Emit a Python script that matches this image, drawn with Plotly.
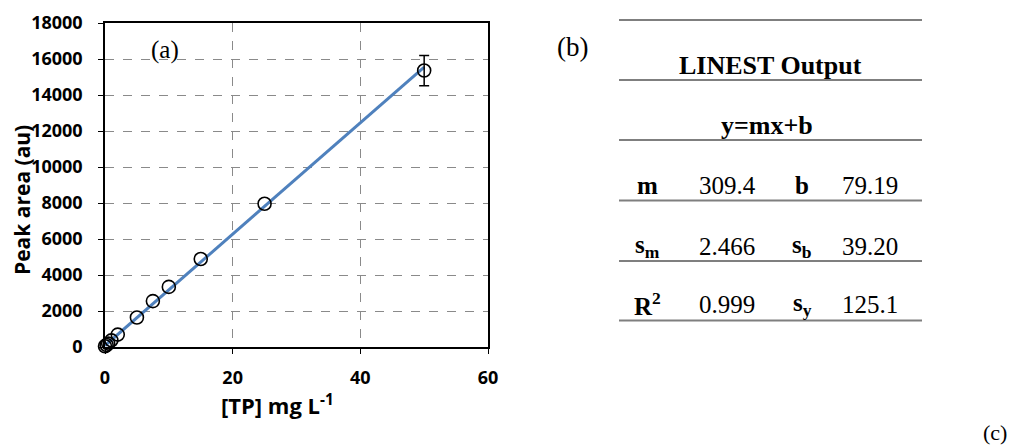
import plotly.graph_objects as go

# Calibration data: total phosphorus standards vs. peak area
tp_conc = [0, 0.25, 0.5, 1, 2, 5, 7.5, 10, 15, 25, 50]
peak_area = [40, 110, 190, 370, 690, 1640, 2550, 3340, 4890, 7960, 15360]
peak_err = [0, 0, 0, 0, 0, 0, 0, 0, 0, 0, 840]

# LINEST regression output
slope = 309.4
intercept = 79.19
fit_x = [0, 50]

table_title = "LINEST Output"
table_eq = "y=mx+b"
row_labels_left = ["m", "s<sub>m</sub>", "R<sup>2</sup>"]
row_values_left = ["309.4", "2.466", "0.999"]
row_labels_right = ["b", "s<sub>b</sub>", "s<sub>y</sub>"]
row_values_right = ["79.19", "39.20", "125.1"]

W, H = 1016, 445


def px(x):
    return x / W


def py(y):
    return 1 - y / H


fig = go.Figure()

# regression line
fig.add_trace(go.Scatter(
    x=fit_x, y=[slope * x + intercept for x in fit_x],
    mode="lines", line=dict(color="#4F81BD", width=3),
    hoverinfo="skip", showlegend=False,
))

# standards with open circle markers
fig.add_trace(go.Scatter(
    x=tp_conc, y=peak_area, mode="markers", cliponaxis=False,
    marker=dict(symbol="circle-open", size=13, color="black", line=dict(width=1.6)),
    showlegend=False,
))

# error bar on the top standard
fig.add_trace(go.Scatter(
    x=tp_conc[-1:], y=peak_area[-1:], mode="markers",
    marker=dict(size=1, color="rgba(0,0,0,0)"),
    error_y=dict(type="data", array=peak_err[-1:], color="black", thickness=1.5, width=5),
    showlegend=False,
))

tick_font = dict(family="Open Sans", size=18, color="black", weight="bold")
fig.update_xaxes(
    domain=[px(105), px(488)], range=[0, 60], dtick=20, tickformat="d",
    showgrid=True, gridcolor="#8a8a8a", griddash="dash", gridwidth=1,
    showline=True, linecolor="black", linewidth=1.5, mirror=True,
    ticks="outside", ticklen=5, tickcolor="black",
    tickfont=tick_font, zeroline=False, automargin=False,
    ticklabelstandoff=9,
)
fig.update_yaxes(
    domain=[py(347), py(23)], range=[0, 18000], dtick=2000, tickformat="d",
    showgrid=True, gridcolor="#8a8a8a", griddash="dash", gridwidth=1,
    showline=True, linecolor="black", linewidth=1.5, mirror=True,
    ticks="outside", ticklen=5, tickcolor="black",
    tickfont=tick_font, zeroline=False, automargin=False,
    ticklabelstandoff=12,
)


def label(text, x, y, size, family, angle=0, bold=False):
    return dict(
        text=text, x=px(x), y=py(y), xref="paper", yref="paper",
        xanchor="center", yanchor="middle", showarrow=False, textangle=angle,
        font=dict(family=family, size=size, color="black",
                  weight="bold" if bold else "normal"),
    )


sans = "Open Sans"
serif = "Liberation Serif"
annotations = [
    # axis titles
    label("Peak area (au)", 22, 200, 21, sans, angle=-90, bold=True),
    label("[TP] mg L<sup>-1</sup>", 277, 404, 22, sans, bold=True),
    # panel labels
    label("(a)", 165, 50, 25, serif),
    label("(b)", 572, 47, 27, serif),
    label("(c)", 995, 432, 22, serif),
    # table headings
    label("<b>" + table_title + "</b>", 770, 65, 26, serif),
    label("<b>" + table_eq + "</b>", 767, 125, 26, serif),
]

# table body
row_y = [185, 246, 304]
col_x = [647, 727, 802, 870]
for i, yy in enumerate(row_y):
    cells = [("<b>" + row_labels_left[i] + "</b>", col_x[0]),
             (row_values_left[i], col_x[1]),
             ("<b>" + row_labels_right[i] + "</b>", col_x[2]),
             (row_values_right[i], col_x[3])]
    for txt, xx in cells:
        annotations.append(label(txt, xx, yy, 25, serif))

fig.update_layout(annotations=annotations)

# table rules
for yy in [20, 80, 140, 200.5, 261, 320.5]:
    fig.add_shape(type="line", xref="paper", yref="paper",
                  x0=px(619), x1=px(922), y0=py(yy), y1=py(yy),
                  line=dict(color="#7f7f7f", width=2))

fig.update_layout(
    width=W, height=H,
    margin=dict(l=0, r=0, t=0, b=0),
    paper_bgcolor="white", plot_bgcolor="white",
    showlegend=False,
)

fig.write_html("out.html")
